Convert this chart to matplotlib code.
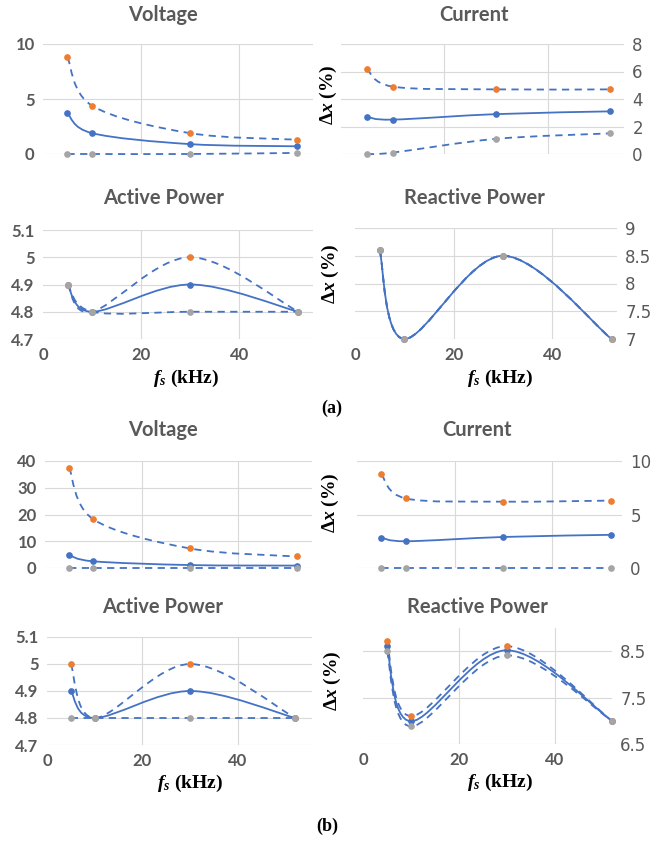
import numpy as np
import matplotlib
matplotlib.use("Agg")
from matplotlib import pyplot as plt
from matplotlib.path import Path
from matplotlib.patches import PathPatch

# switching frequency (kHz)
fs = [5, 10, 30, 52]

# (a) deviation values: mean / max / min
volt_a_mean = [3.7, 1.9, 0.9, 0.7]
volt_a_max = [8.8, 4.4, 1.9, 1.3]
volt_a_min = [0.0, 0.0, 0.0, 0.1]
curr_a_mean = [2.7, 2.5, 2.9, 3.1]
curr_a_max = [6.2, 4.9, 4.7, 4.7]
curr_a_min = [0.0, 0.1, 1.1, 1.5]
act_a_mean = [4.9, 4.8, 4.9, 4.8]
act_a_max = [4.9, 4.8, 5.0, 4.8]
act_a_min = [4.9, 4.8, 4.8, 4.8]
rea_a_mean = [8.6, 7.0, 8.5, 7.0]
rea_a_max = [8.6, 7.0, 8.5, 7.0]
rea_a_min = [8.6, 7.0, 8.5, 7.0]

# (b)
volt_b_mean = [4.9, 2.5, 1.1, 0.9]
volt_b_max = [37.5, 18.2, 7.3, 4.3]
volt_b_min = [0.0, 0.0, 0.0, 0.0]
curr_b_mean = [2.85, 2.5, 2.9, 3.1]
curr_b_max = [8.75, 6.5, 6.2, 6.3]
curr_b_min = [0.0, 0.0, 0.0, 0.0]
act_b_mean = [4.9, 4.8, 4.9, 4.8]
act_b_max = [5.0, 4.8, 5.0, 4.8]
act_b_min = [4.8, 4.8, 4.8, 4.8]
rea_b_mean = [8.61, 6.99, 8.52, 7.0]
rea_b_max = [8.72, 7.1, 8.61, 7.0]
rea_b_min = [8.5, 6.88, 8.41, 7.0]

BLUE = "#4472C4"
ORANGE = "#ED7D31"
GRAY = "#A5A5A5"
TXT = "#595959"
GRID = "#D9D9D9"

W, H = 665, 844
fig = plt.figure(figsize=(W / 100, H / 100), dpi=100)

plt.rcParams["mathtext.fontset"] = "custom"
plt.rcParams["mathtext.it"] = "Liberation Serif:italic:bold"
plt.rcParams["mathtext.bf"] = "Liberation Serif:italic:bold"
plt.rcParams["mathtext.rm"] = "Liberation Serif:bold"


def smooth_line(ax, x, y, ls):
    # excel-like smoothed line: cubic bezier through points (catmull-rom controls)
    p = np.column_stack([x, y]).astype(float)
    n = len(p)
    verts = [p[0]]
    codes = [Path.MOVETO]
    for i in range(n - 1):
        p0 = p[i - 1] if i > 0 else p[i]
        p3 = p[i + 2] if i + 2 < n else p[i + 1]
        c1 = p[i] + (p[i + 1] - p0) / 6.0
        c2 = p[i + 1] - (p3 - p[i]) / 6.0
        verts += [c1, c2, p[i + 1]]
        codes += [Path.CURVE4] * 3
    patch = PathPatch(Path(verts, codes), fill=False, edgecolor=BLUE, lw=1.3,
                      linestyle=ls, clip_on=False, zorder=3)
    ax.add_patch(patch)


def panel(box, xlim, ylim, yticks, ylabels, side, series, xlabels=False):
    l, r, t, b = box
    ax = fig.add_axes([l / W, 1 - b / H, (r - l) / W, (b - t) / H])
    ax.set_xlim(*xlim)
    ax.set_ylim(*ylim)
    for s in ax.spines.values():
        s.set_visible(False)
    ax.set_xticks([0, 20, 40])
    ax.set_yticks(yticks)
    ax.set_yticklabels(ylabels)
    ax.grid(True, color=GRID, lw=0.8)
    ax.set_axisbelow(True)
    ax.get_xgridlines()[0].set_visible(False)
    ax.tick_params(length=0, labelsize=12, labelcolor=TXT, pad=6)
    for lab in ax.get_yticklabels() + ax.get_xticklabels():
        lab.set_fontfamily("Lato")
        lab.set_fontweight("bold")
    if side == "right":
        ax.yaxis.tick_right()
    if not xlabels:
        ax.tick_params(labelbottom=False)
    mean, mx, mn = series
    smooth_line(ax, fs, mean, "-")
    smooth_line(ax, fs, mx, (0, (4, 3)))
    smooth_line(ax, fs, mn, (0, (4, 3)))
    ax.plot(fs, mean, "o", color=BLUE, ms=3.8, zorder=4, clip_on=False)
    ax.plot(fs, mx, "o", color=ORANGE, ms=3.8, zorder=4, clip_on=False)
    ax.plot(fs, mn, "o", color=GRAY, ms=3.8, zorder=4, clip_on=False)
    return ax


def text_px(x, y, s, **kw):
    fig.text(x / W, 1 - y / H, s, **kw)


def title_px(x, y, s):
    text_px(x, y, s, ha="center", va="center", fontsize=14.5, color=TXT,
            family="Lato", fontweight="bold")


def dx_label(x, y):
    text_px(x, y, r"$\mathbf{\mathit{\Delta x}}$ (%)", ha="center", va="center",
            rotation=90, fontsize=14, family="Liberation Serif", fontweight="bold")


def fs_label(x, y):
    text_px(x, y, r"$\mathbf{\mathit{f_s}}$ (kHz)", ha="center", va="center",
            fontsize=14, family="Liberation Serif", fontweight="bold")


# ---- (a)
panel((43, 313, 44, 154), (1.2, 55.2), (0, 10), [0, 5, 10], ["0", "5", "10"],
      "left", (volt_a_mean, volt_a_max, volt_a_min))
panel((341, 624, 44, 154), (0.65, 54.8), (0, 8), [0, 2, 4, 6, 8],
      ["0", "2", "4", "6", "8"], "right",
      (curr_a_mean, curr_a_max, curr_a_min))
panel((43, 313, 230, 339), (0.4, 55), (4.7, 5.1), [4.7, 4.8, 4.9, 5.0, 5.1],
      ["4.7", "4.8", "4.9", "5", "5.1"], "left",
      (act_a_mean, act_a_max, act_a_min), xlabels=True)
panel((355, 617, 228, 339), (0.8, 53.1), (7, 9), [7, 7.5, 8, 8.5, 9],
      ["7", "7.5", "8", "8.5", "9"], "right",
      (rea_a_mean, rea_a_max, rea_a_min), xlabels=True)

title_px(163, 15, "Voltage")
title_px(474, 15, "Current")
title_px(164, 198, "Active Power")
title_px(474, 198, "Reactive Power")
dx_label(328, 95)
dx_label(330, 274)
fs_label(186, 378)
fs_label(500, 378)
text_px(332, 408, "(a)", ha="center", va="center", fontsize=13,
        family="Liberation Serif", fontweight="bold")

# ---- (b)
panel((45, 312, 461, 568), (1.3, 55.2), (0, 40), [0, 10, 20, 30, 40],
      ["0", "10", "20", "30", "40"], "left",
      (volt_b_mean, volt_b_max, volt_b_min))
panel((357, 622, 461, 568), (0.8, 54.3), (0, 10), [0, 5, 10], ["0", "5", "10"],
      "right", (curr_b_mean, curr_b_max, curr_b_min))
panel((47, 312, 637, 745), (0.55, 55.5), (4.7, 5.1), [4.7, 4.8, 4.9, 5.0, 5.1],
      ["4.7", "4.8", "4.9", "5", "5.1"], "left",
      (act_b_mean, act_b_max, act_b_min), xlabels=True)
panel((363, 612, 628, 744), (1.5, 52), (6.5, 9.0), [6.5, 7.5, 8.5],
      ["6.5", "7.5", "8.5"], "right",
      (rea_b_mean, rea_b_max, rea_b_min), xlabels=True)

title_px(163, 430, "Voltage")
title_px(477, 430, "Current")
title_px(163, 607, "Active Power")
title_px(477, 607, "Reactive Power")
dx_label(330, 503)
dx_label(332, 681)
fs_label(190, 783)
fs_label(500, 782)
text_px(327, 826, "(b)", ha="center", va="center", fontsize=13,
        family="Liberation Serif", fontweight="bold")

fig.savefig("out.png", dpi=100)
